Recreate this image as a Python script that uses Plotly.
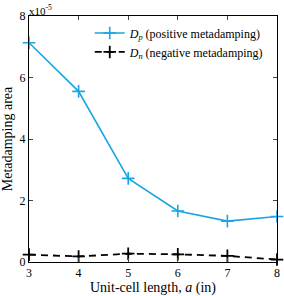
import plotly.graph_objects as go

a_vals = [3, 4, 5, 6, 7, 8]
dp_vals = [7.13, 5.55, 2.72, 1.66, 1.33, 1.48]
dn_vals = [0.24, 0.18, 0.27, 0.25, 0.20, 0.08]
y_ticks = [0, 2, 4, 6, 8]

blue = "rgb(25,165,225)"
fig = go.Figure()
fig.add_trace(go.Scatter(
    x=a_vals, y=dp_vals, mode="lines+markers",
    name="<i>D</i><sub><i>p</i></sub> (positive metadamping)",
    line=dict(color=blue, width=1.6),
    marker=dict(symbol="cross-thin", size=9, line=dict(width=1.6, color=blue)),
    cliponaxis=False,
))
fig.add_trace(go.Scatter(
    x=a_vals, y=dn_vals, mode="lines+markers",
    name="<i>D</i><sub><i>n</i></sub> (negative metadamping)",
    line=dict(color="black", width=1.8, dash="7px,5px"),
    marker=dict(symbol="cross-thin", size=9, line=dict(width=1.8, color="black")),
    cliponaxis=False,
))

fig.update_layout(
    width=284, height=296,
    margin=dict(l=29, r=4, t=16, b=31),
    paper_bgcolor="white", plot_bgcolor="white",
    font=dict(family="Liberation Serif", size=12, color="black"),
    showlegend=True,
    legend=dict(x=0.245, y=0.99, xanchor="left", yanchor="top",
                bgcolor="rgba(255,255,255,0)", font=dict(size=12),
                tracegroupgap=0, itemwidth=30),
    xaxis=dict(range=[3, 8], tickvals=a_vals, ticks="inside", ticklen=4,
               showline=True, linecolor="black", linewidth=1, mirror="ticks",
               showgrid=False, zeroline=False,
               title=dict(text="Unit-cell length, <i>a</i> (in)", standoff=2)),
    yaxis=dict(range=[0, 8], tickvals=y_ticks, ticks="inside", ticklen=4,
               showline=True, linecolor="black", linewidth=1, mirror="ticks",
               showgrid=False, zeroline=False,
               title=dict(text="Metadamping area", standoff=3)),
)
fig.add_annotation(xref="paper", yref="paper", x=0, y=1, xanchor="left", yanchor="bottom",
                   text="x10<sup>-5</sup>", showarrow=False, font=dict(size=11), xshift=-2, yshift=-3)
fig.write_html("out.html", config={"displayModeBar": False},
               post_script="document.body.style.margin='0';document.body.style.overflow='hidden';")
